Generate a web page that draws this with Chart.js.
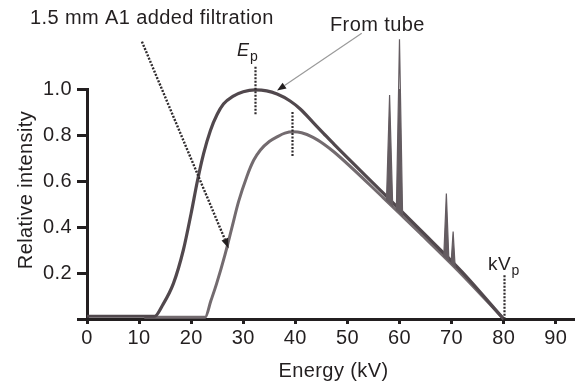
<!DOCTYPE html>
<html><head><meta charset="utf-8">
<script src="https://cdn.jsdelivr.net/npm/chart.js@4/dist/chart.umd.min.js"></script>
<style>html,body{margin:0;padding:0;background:#fff}#wrap{width:575px;height:384px}</style>
</head><body><div id="wrap"><canvas id="c" width="575" height="384"></canvas></div>
<script>
// ---- data ----
const tubeEnergy    = [0, 13.0, 14.5, 16.6, 18.5, 20.0, 21.2, 22.4, 23.7, 25.0, 26.2, 28.0, 30.0, 32.3, 34.5, 36.5, 39.0, 41.0, 43.4, 45.5, 47.5, 56.9, 64.0, 72.0, 80.0];
const tubeIntensity = [0.012, 0.012, 0.06, 0.155, 0.30, 0.46, 0.60, 0.72, 0.82, 0.89, 0.935, 0.968, 0.988, 0.996, 0.992, 0.978, 0.948, 0.912, 0.855, 0.805, 0.758, 0.547, 0.387, 0.205, 0.0];

const filtEnergy    = [11.0, 22.7, 23.8, 24.9, 26.5, 27.8, 29.1, 30.7, 32.0, 33.3, 35.0, 36.5, 38.0, 39.6, 41.2, 43.4, 45.5, 47.5, 56.9, 64.0, 72.0, 80.0];
const filtIntensity = [0.008, 0.008, 0.08, 0.155, 0.28, 0.395, 0.51, 0.62, 0.69, 0.735, 0.772, 0.792, 0.808, 0.814, 0.81, 0.79, 0.76, 0.725, 0.527, 0.372, 0.193, 0.0];

// characteristic lines (spikes)
const spikeEnergy    = [58.1, 60.0, 69.0, 70.3];
const spikePeak      = [0.974, 1.216, 0.546, 0.38];
const spikeLeftE     = [57.5, 59.4, 68.5, 69.9];
const spikeRightE    = [58.7, 60.6, 69.5, 70.7];
const spikeLeftBase  = [0.514, 0.473, 0.271, 0.240];
const spikeRightBase = [0.488, 0.446, 0.249, 0.222];

// annotation markers (energy, top, bottom)
const markerE      = [32.3, 39.3, 80.0];
const markerTop    = [1.097, 0.90, 0.19];
const markerBottom = [0.887, 0.706, 0.0];

const xTickStep = 10;
const yTickStep = 0.2;

// ---- styling ----
const FONT = "'Liberation Sans', Arial, Helvetica, sans-serif";
const axisColor = '#231f20';
const textColor = '#231f20';
const tubeColor = '#51484d';
const filtColor = '#736b6f';
const spikeColor = '#645c61';

Chart.defaults.font.family = FONT;

const pts = (xs, ys) => xs.map((x, i) => ({ x, y: ys[i] }));

const spikeSets = spikeEnergy.map((e, i) => ({
  label: 'spike' + i,
  data: [
    { x: spikeLeftE[i], y: spikeLeftBase[i] },
    { x: e, y: spikePeak[i] },
    { x: spikeRightE[i], y: spikeRightBase[i] }
  ],
  borderColor: spikeColor,
  backgroundColor: spikeColor,
  borderWidth: 1.2,
  fill: 'shape',
  tension: 0,
  pointRadius: 0,
  clip: false
}));

const annot = {
  id: 'annot',
  beforeDraw(chart) { chart.ctx.letterSpacing = '0.4px'; },
  afterDatasetsDraw(chart) {
    const { ctx, scales: { x, y } } = chart;
    const px = v => x.getPixelForValue(v), py = v => y.getPixelForValue(v);
    ctx.save();
    // dashed vertical markers
    ctx.strokeStyle = '#2f2b2d';
    ctx.lineWidth = 2.2;
    ctx.setLineDash([2, 1.5]);
    markerE.forEach((e, i) => {
      ctx.beginPath();
      ctx.moveTo(Math.round(px(e)) + 0.5, py(markerTop[i]));
      ctx.lineTo(Math.round(px(e)) + 0.5, py(markerBottom[i]));
      ctx.stroke();
    });

    function arrow(x0, y0, x1, y1, headLen, headW, color, lw, dash) {
      const ang = Math.atan2(y1 - y0, x1 - x0);
      const bx = x1 - headLen * Math.cos(ang), by = y1 - headLen * Math.sin(ang);
      ctx.strokeStyle = color; ctx.lineWidth = lw;
      ctx.setLineDash(dash);
      ctx.beginPath(); ctx.moveTo(x0, y0); ctx.lineTo(bx, by); ctx.stroke();
      ctx.setLineDash([]);
      ctx.fillStyle = '#231f20';
      ctx.beginPath();
      ctx.moveTo(x1, y1);
      ctx.lineTo(bx + headW / 2 * Math.sin(ang), by - headW / 2 * Math.cos(ang));
      ctx.lineTo(bx - headW / 2 * Math.sin(ang), by + headW / 2 * Math.cos(ang));
      ctx.closePath(); ctx.fill();
    }
    // filtration arrow (dashed) -> filtered curve
    arrow(px(10.55), py(1.206), px(27.2), py(0.307), 10, 7, '#2f2b2d', 2.4, [2, 1.5]);
    // from tube arrow (thin grey) -> tube curve
    arrow(px(52.75), py(1.242), px(36.5), py(0.993), 9, 7, '#9a9a9a', 1.2, []);

    // texts
    ctx.fillStyle = textColor;
    ctx.textAlign = 'left';
    ctx.textBaseline = 'alphabetic';
    ctx.font = '20px ' + FONT;
    ctx.fillText('1.5 mm A1 added filtration', 30, 23.5);
    ctx.fillText('From tube', 330, 31);
    ctx.font = 'italic 18px ' + FONT;
    ctx.fillText('E', 237, 55.5);
    ctx.font = '14px ' + FONT;
    ctx.fillText('p', 250, 60.5);
    ctx.font = '19px ' + FONT;
    ctx.fillText('kV', 488, 270);
    ctx.font = '14px ' + FONT;
    ctx.fillText('p', 511.5, 274.5);

    // axis titles
    ctx.font = '20px ' + FONT;
    ctx.textAlign = 'center';
    ctx.fillText('Energy (kV)', 333.5, 377);
    ctx.translate(31.5, 190);
    ctx.rotate(-Math.PI / 2);
    ctx.fillText('Relative intensity', 0, 0);
    ctx.restore();
  }
};

new Chart(document.getElementById('c'), {
  type: 'line',
  data: {
    datasets: [
      ...spikeSets,
      { label: 'From tube', data: pts(tubeEnergy, tubeIntensity), borderColor: tubeColor, borderWidth: 3.2,
        cubicInterpolationMode: 'monotone', fill: false, pointRadius: 0, clip: false },
      { label: '1.5 mm Al added filtration', data: pts(filtEnergy, filtIntensity), borderColor: filtColor, borderWidth: 3,
        cubicInterpolationMode: 'monotone', fill: false, pointRadius: 0, clip: false }
    ]
  },
  options: {
    responsive: false,
    animation: false,
    devicePixelRatio: 1,
    layout: { padding: { top: 89, right: 0, bottom: 0, left: 0 } },
    plugins: { legend: { display: false }, tooltip: { enabled: false } },
    elements: { point: { radius: 0 } },
    scales: {
      x: {
        type: 'linear', min: 0, max: 93.7,
        border: { display: true, width: 3, color: axisColor },
        grid: { display: true, drawOnChartArea: false, drawTicks: true, tickLength: 5, tickWidth: 3, tickColor: axisColor },
        ticks: { stepSize: xTickStep, includeBounds: false, padding: 2, color: textColor,
                 font: { size: 20 }, maxRotation: 0, autoSkip: false },
        afterFit: s => { s.height = 65; }
      },
      y: {
        type: 'linear', min: 0, max: 1.0,
        border: { display: true, width: 3, color: axisColor },
        grid: { display: true, drawOnChartArea: false, drawTicks: true, tickLength: 10, tickWidth: 3, tickColor: axisColor },
        ticks: { stepSize: yTickStep, padding: 5, color: textColor, font: { size: 20 },
                 callback: v => (Math.abs(v) < 1e-9 ? '' : v.toFixed(1)) },
        afterFit: s => { s.width = 87; }
      }
    }
  },
  plugins: [annot]
});
</script>
</body></html>
